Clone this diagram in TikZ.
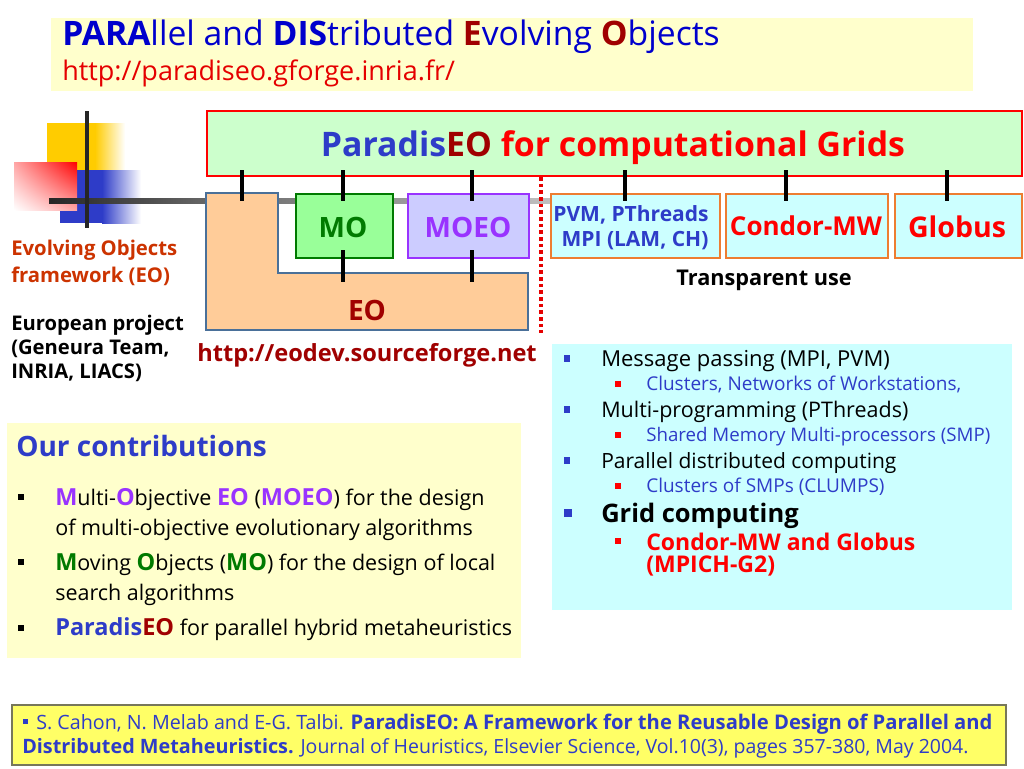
\documentclass[tikz,border=0pt]{standalone}
\usepackage{fontspec}
\setmainfont{Open Sans}
\usetikzlibrary{calc,shadings}
\definecolor{hdr}{HTML}{FFFFCC}
\definecolor{grn}{HTML}{CCFFCC}
\definecolor{cyn}{HTML}{CCFFFF}
\definecolor{blu}{HTML}{2E3CC8}
\definecolor{drd}{HTML}{A00000}
\definecolor{brd}{HTML}{CC3300}
\definecolor{org}{HTML}{ED7D31}
\definecolor{pur}{HTML}{9933FF}
\definecolor{dgr}{HTML}{007A00}
\definecolor{peach}{HTML}{FFCC99}
\definecolor{eoline}{HTML}{4A7099}
\definecolor{logoy}{HTML}{FFCC00}
\definecolor{refy}{HTML}{FFFF66}
\definecolor{refl}{HTML}{77775A}
\definecolor{mofill}{HTML}{99FF99}
\definecolor{moeofill}{HTML}{CCCCFF}
\newcommand{\px}[1]{\fontsize{\dimexpr #1pt*3/4\relax}{\dimexpr #1pt*9/10\relax}\selectfont}
\newcommand{\B}[2]{\textbf{\textcolor{#1}{#2}}}
\newcommand{\BC}[2]{{\px{23.5}\textbf{\textcolor{#1}{#2}}}}
\tikzset{
  x=0.75pt,y=-0.75pt,
  txt/.style={inner sep=0pt,anchor=base west,text depth=0pt},
  ctr/.style={inner sep=0pt,anchor=base,text depth=0pt},
  tick/.style={line width=3.3pt,black},
  module/.style={line width=1.6pt,inner sep=0pt,anchor=north west},
}
\newcommand{\boxat}[7]{% name x1 y1 x2 y2 fill draw
  \node[module,fill=#6,draw=#7,minimum width=(#4-#2)*0.75pt,minimum height=(#5-#3)*0.75pt] (#1) at (#2,#3) {};}
\begin{document}
\begin{tikzpicture}
\useasboundingbox (0,0) rectangle (1024,768);
\fill[white] (0,0) rectangle (1024,768);
% header
\fill[hdr] (51,18) rectangle (973,91);
\node[txt] (h1) at (62,45) {\px{33.7}\textcolor{blue!80!black}{\textbf{PARA}llel and \textbf{DIS}tributed }\B{drd}{E}\textcolor{blue!80!black}{volving }\B{drd}{O}\textcolor{blue!80!black}{bjects}};
\node[txt,text=red!90!black] (h2) at (62,80) {\px{27}http://paradiseo.gforge.inria.fr/};
% logo
\fill[logoy] (47,123) rectangle (95,170);
\shade[left color=logoy,right color=white] (95,123) rectangle (125,170);
\fill[blu] (60,170) rectangle (102,223);
\shade[left color=blu,right color=white] (102,170) rectangle (141,223);
\shade[lower left=white,upper right=red,upper left=red!35!white,lower right=red!35!white] (14,162) rectangle (77,210);
\coordinate (lv1) at (87,111); \coordinate (lv2) at (87,228);
\shade[left color=black!85,right color=black!60] (49,198.5) rectangle (206,203.5);
\shade[left color=black!60,right color=black!25] (206,198.5) rectangle (550,203.5);
\draw[line width=3pt,black!85] (lv1)--(lv2);
% top box
\boxat{top}{206}{110}{1021}{175}{grn}{red}
\node[ctr] (toplab) at (613,156) {\px{33.8}\B{blu}{Paradis}\B{drd}{EO} \B{red}{for computational Grids}};
% EO
\draw[line width=1.8pt,draw=eoline,fill=peach] (206,193)--(278,193)--(278,273)--(528,273)--(528,330)--(206,330)--cycle;
\node[ctr] (eolab) at (367,320) {\px{28}\B{drd}{EO}};
\boxat{mo}{295}{193}{392}{257}{mofill}{dgr}
\node[ctr] (molab) at (343,237) {\px{28}\B{dgr}{MO}};
\boxat{moeo}{407}{193}{528}{257}{moeofill}{pur}
\node[ctr] (moeolab) at (468,237) {\px{28}\B{pur}{MOEO}};
\boxat{pvm}{550}{193}{719}{257}{cyn}{org}
\node[ctr] (p1) at (631,221) {\px{21}\B{blu}{PVM, PThreads}};
\node[ctr] (p2) at (635,246) {\px{21}\B{blu}{MPI (LAM, CH)}};
\boxat{condor}{725}{193}{887}{257}{cyn}{org}
\node[ctr] (clab) at (806,235) {\px{26}\B{red}{Condor-MW}};
\boxat{globus}{894}{193}{1021}{257}{cyn}{org}
\node[ctr] (glab) at (957,237) {\px{28.5}\B{red}{Globus}};
\node[ctr] (tu) at (764,285) {\px{21.7}\textbf{Transparent use}};
% ticks
\foreach \xx in {242,343,472,625,786,947}{
  \coordinate (ta\xx) at (\xx,170); \coordinate (tb\xx) at (\xx,201);
  \draw[tick] (ta\xx)--(tb\xx);}
\foreach \xx in {343,472}{
  \coordinate (tc\xx) at (\xx,250); \coordinate (td\xx) at (\xx,282);
  \draw[tick] (tc\xx)--(td\xx);}
\coordinate (dotb) at (541,333);
\draw[red!90!black,line width=2.4pt,dash pattern=on 2.6pt off 2.4pt] (top.south -| dotb)--(dotb);
% left text
\node[txt] (l1) at (11,255) {\px{20.3}\B{brd}{Evolving Objects}};
\node[txt] (l2) at (11,282) {\px{20.3}\B{brd}{framework (EO)}};
\node[txt] (l3) at (11,330) {\px{20.2}\textbf{European project}};
\node[txt] (l4) at (11,354) {\px{20.2}\textbf{(Geneura Team,}};
\node[txt] (l5) at (11,378) {\px{20.2}\textbf{INRIA, LIACS)}};
\node[txt] (url) at (197,361) {\px{23.6}\B{drd}{http://eodev.sourceforge.net}};
% right panel
\fill[cyn] (552,344) rectangle (1012,610);
\foreach \yy in {358,409,460}{\fill[blu] (564,\yy-3.5) rectangle +(6,7);}
\fill[blu] (564,509) rectangle +(8,8);
\foreach \yy in {384,435,486,541}{\fill[red] (615,\yy-3) rectangle +(6,6);}
\node[txt] (r1) at (601,366) {\px{22}Message passing (MPI, PVM)};
\node[txt] (r2) at (646,390) {\px{19}\textcolor{blu}{Clusters, Networks of Workstations,}};
\node[txt] (r3) at (601,417) {\px{21.5}Multi-programming (PThreads)};
\node[txt] (r4) at (646,441) {\px{18.7}\textcolor{blu}{Shared Memory Multi-processors (SMP)}};
\node[txt] (r5) at (601,468) {\px{21}Parallel distributed computing};
\node[txt] (r6) at (646,492) {\px{19}\textcolor{blu}{Clusters of SMPs (CLUMPS)}};
\node[txt] (r7) at (601,522) {\px{25.5}\textbf{Grid computing}};
\node[txt] (r8) at (646,550) {\px{23}\B{red}{Condor-MW and Globus}};
\node[txt] (r9) at (646,572) {\px{23}\B{red}{(MPICH-G2)}};
% contributions
\fill[hdr] (7,423) rectangle (521,658);
\node[txt] (c0) at (16,456) {\px{28}\B{blu}{Our contributions}};
\foreach \yy in {497,562,628}{\fill[black] (18,\yy-3) rectangle +(6,6);}
\node[txt] (c1) at (55,505) {\px{21.5}\BC{pur}{M}ulti-\BC{pur}{O}bjective \BC{pur}{EO} (\BC{pur}{MOEO}) for the design};
\node[txt] (c2) at (55,535) {\px{21.5}of multi-objective evolutionary algorithms};
\node[txt] (c3) at (55,570) {\px{21.5}\BC{dgr}{M}oving \BC{dgr}{O}bjects (\BC{dgr}{MO}) for the design of local};
\node[txt] (c4) at (55,600) {\px{21.5}search algorithms};
\node[txt] (c5) at (55,635) {\px{21.5}\BC{blu}{Paradis}\BC{drd}{EO} for parallel hybrid metaheuristics};
% reference
\boxat{refbox}{11}{704}{1005}{764}{refy}{refl}
\fill[blu] (23,719) rectangle +(5,5);
\node[txt] (b1) at (36,729) {\px{19.7}\textcolor{blu}{S. Cahon, N. Melab and E-G. Talbi. {\px{20.2}\textbf{ParadisEO: A Framework for the Reusable Design of Parallel and}}}};
\node[txt] (b2) at (22,753) {\px{19.5}\textcolor{blu}{{\px{19.8}\textbf{Distributed Metaheuristics.}} Journal of Heuristics, Elsevier Science, Vol.10(3), pages 357-380, May 2004.}};
\end{tikzpicture}
\end{document}
